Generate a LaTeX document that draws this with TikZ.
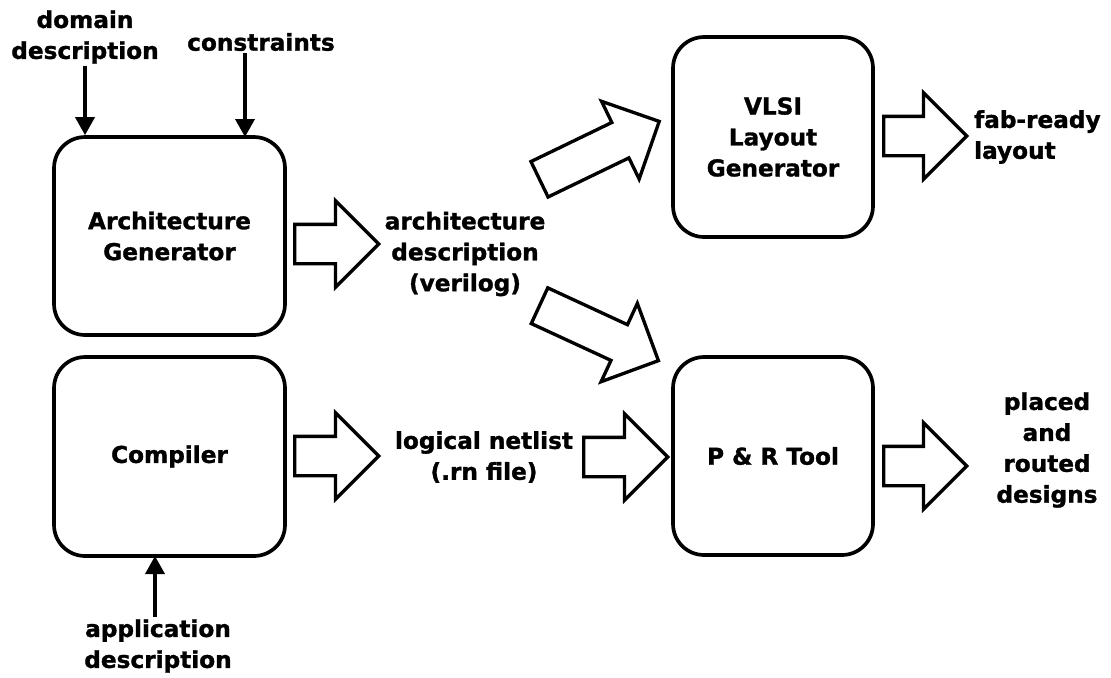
\documentclass[tikz,border=0pt]{standalone}
\usepackage{fontspec}
\setmainfont{DejaVu Sans}[BoldFeatures={FakeBold=1.3}]
\usepackage{tikz}
\usetikzlibrary{
  arrows.meta,
  positioning,
  shapes.arrows,
}

\begin{document}
\begin{tikzpicture}[
    x=0.02cm, y=-0.02cm,
    txt/.style={align=center, inner sep=1pt,
                font=\fontsize{13.2}{17.6}\selectfont\bfseries},
    block/.style={draw, line width=2.1pt, rounded corners=0.62cm,
                  align=center, font=\fontsize{13.2}{17.6}\selectfont\bfseries},
    fatarrow/.style={single arrow, draw, line width=1.9pt, inner sep=0pt,
                     inner ysep=0.36cm, single arrow head extend=0.47cm,
                     anchor=tail},
    feed/.style={-{Triangle[length=0.36cm, width=0.38cm]}, line width=2.1pt},
  ]
  \useasboundingbox (0,0) rectangle (1111,677);

  % boxes
  \node[block, minimum width=4.62cm, minimum height=3.96cm] (arch) at (169.5,236)
    {Architecture\\Generator};
  \node[block, minimum width=4.62cm, minimum height=3.98cm] (comp) at (169.5,456.5)
    {Compiler};
  \node[block, minimum width=4cm, minimum height=4cm] (vlsi) at (773,137)
    {VLSI\\Layout\\Generator};
  \node[block, minimum width=4cm, minimum height=3.96cm] (pnr) at (773,456)
    {P \& R Tool};

  % inputs
  \node[txt] (dom) at (85,37) {domain\\description};
  \node[txt] (cons) at (261,42) {constraints};
  \node[txt] (app) at (158,646) {application\\description};
  \coordinate (consin) at (245,137);
  \coordinate (appin) at (155,556);
  \draw[feed] (dom) -- (dom |- arch.north);
  \draw[feed] (cons.south -| consin) -- (consin);
  \draw[feed] (app.north -| appin) -- (appin);

  % intermediate results
  \node[txt] (archdesc) at (465,254) {architecture\\description\\(verilog)};
  \node[txt] (netlist) at (484,457) {logical netlist\\(.rn file)};
  \node[txt, align=left, anchor=west] (fab) at (972,137) {fab-ready\\layout};
  \node[txt] (placed) at (1047,450) {placed\\and\\routed\\designs};

  % block arrows
  \node[fatarrow, minimum height=1.68cm] (a1) at (293,244) {};
  \node[fatarrow, minimum height=1.68cm] (a2) at (293,456) {};
  \node[fatarrow, minimum height=2.66cm, rotate=25.8] (a3) at (538,180) {};
  \node[fatarrow, minimum height=2.62cm, rotate=-24.8] (a4) at (538,305) {};
  \node[fatarrow, minimum height=1.68cm] (a5) at (582,457) {};
  \node[fatarrow, minimum height=1.66cm] (a6) at (882,136) {};
  \node[fatarrow, minimum height=1.66cm] (a7) at (882,466) {};
\end{tikzpicture}
\end{document}
